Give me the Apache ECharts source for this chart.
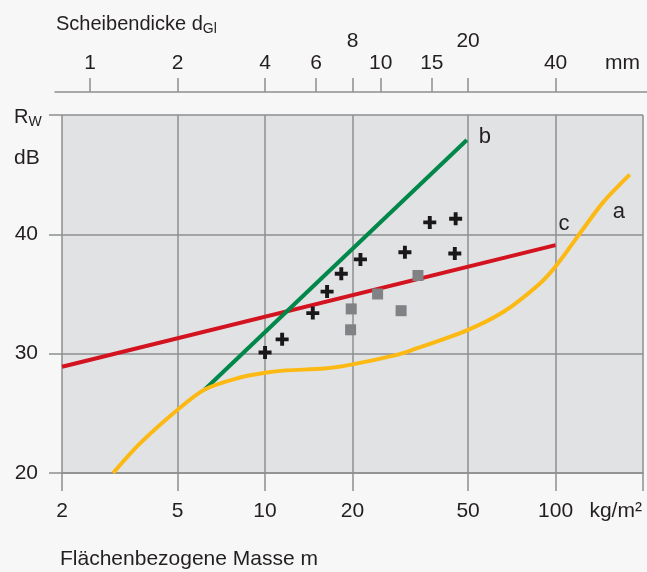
<!DOCTYPE html>
<html>
<head>
<meta charset="utf-8">
<script src="https://cdn.jsdelivr.net/npm/echarts@6/dist/echarts.min.js"></script>
<style>
html,body{margin:0;padding:0;background:#f7f7f7;}
#chart{width:647px;height:572px;}
</style>
</head>
<body>
<div id="chart"></div>
<script>
// ---- data ----
const massTicks = [2, 5, 10, 20, 50, 100, 200];
const massLabelValues = [2, 5, 10, 20, 50, 100, 161];
const massUnit = 'kg/m²';
const thicknessTicks = [1, 2, 4, 6, 8, 10, 15, 20, 40];
const thicknessLabelValues = [1, 2, 4, 6, 8, 10, 15, 20, 40, 68];
const thicknessRaised = [8, 20];
const thicknessUnit = 'mm';
const rwTicks = [20, 30, 40];

const curveA = [[3,20],[3.72,22.5],[5,25.3],[6.2,27],[8.08,27.96],[10,28.4],[11.8,28.6],[16,28.75],[20,29.1],[28.4,29.9],[32,30.3],[50,32],[66.6,33.55],[87.6,35.8],[100,37.3],[124,40.4],[146,42.7],[180,45]];
const lineB = [[6.2,27],[49.5,47.9]];
const lineC = [[2,28.9],[100,39.1]];
const plusPoints = [[10,30.1],[11.45,31.2],[14.6,33.4],[16.35,35.2],[18.3,36.7],[21.3,37.9],[30.3,38.5],[36.9,41.0],[45.3,41.3],[45,38.4]];
const squarePoints = [[19.7,32.0],[19.8,33.75],[24.4,35.0],[29.4,33.6],[33.6,36.55]];

const FONT = "'Liberation Sans Narrow','Liberation Sans',sans-serif";
const TXT = '#231f20';
const GRID = '#8d8e90';

const chart = echarts.init(document.getElementById('chart'), null, {renderer:'canvas'});
const richSub = {
  a:{fontFamily:FONT,fontSize:20,fontWeight:'normal',color:TXT,lineHeight:22,verticalAlign:'top'},
  s:{fontFamily:FONT,fontSize:14,fontWeight:'normal',color:TXT,lineHeight:14,padding:[12,0,0,0],verticalAlign:'bottom'}
};
chart.setOption({
  backgroundColor: '#f7f7f7',
  animation: false,
  textStyle: {fontFamily: FONT},
  title: [
    {left: 51, top: 9, text: '{a|Scheibendicke d}{s|Gl}', textStyle: {fontWeight:'normal', rich: richSub}},
    {left: 9, top: 102, text: '{a|R}{s|W}', textStyle: {fontWeight:'normal', rich: richSub}},
    {left: 9, top: 143, text: 'dB', textStyle:{fontFamily:FONT,fontSize:21,fontWeight:'normal',color:TXT}},
    {left: 55, top: 544, text: 'Flächenbezogene Masse m', textStyle:{fontFamily:FONT,fontSize:21,fontWeight:'normal',color:TXT}}
  ],
  grid: [
    {left: 62, top: 115, width: 581, height: 358, show: true, backgroundColor: '#e1e2e4', borderWidth: 0},
    {left: 55, top: 91, width: 592, height: 1, show: false}
  ],
  xAxis: [
    {type: 'log', gridIndex: 0, min: 2, max: 200, position: 'bottom',
     axisLine: {show: true, lineStyle: {color: GRID, width: 1.5}},
     axisTick: {show: true, length: 18, customValues: massTicks, lineStyle: {color: GRID, width: 1.5}},
     splitLine: {show: true, lineStyle: {color: GRID, width: 1.5}},
     axisLabel: {customValues: massLabelValues, margin: 28, fontSize: 21, color: TXT, fontFamily: FONT,
       formatter: v => (v > 150 ? massUnit : String(Math.round(v)))}},
    {type: 'log', gridIndex: 1, min: 0.7569, max: 82.56, position: 'top',
     axisLine: {show: true, lineStyle: {color: GRID, width: 1.5}},
     axisTick: {show: true, length: 14, customValues: thicknessTicks, lineStyle: {color: GRID, width: 1.5}},
     splitLine: {show: false},
     axisLabel: {customValues: thicknessLabelValues, margin: 17, fontSize: 21, color: TXT, fontFamily: FONT,
       formatter: v => {
         const r = Math.round(v);
         if (r === 68) return '{n|' + thicknessUnit + '}';
         return thicknessRaised.indexOf(r) >= 0 ? '{u|' + r + '}' : '{n|' + r + '}';
       },
       rich: {n:{fontSize:21,color:TXT,fontFamily:FONT}, u:{fontSize:21,color:TXT,fontFamily:FONT,padding:[0,0,22,0]}}}}
  ],
  yAxis: [
    {type: 'value', gridIndex: 0, min: 20, max: 50, interval: 10,
     axisLine: {show: false},
     axisTick: {show: true, length: 13, lineStyle: {color: GRID, width: 1.5}},
     splitLine: {show: true, lineStyle: {color: GRID, width: 1.5}},
     axisLabel: {margin: 24, fontSize: 21, color: TXT, fontFamily: FONT,
       formatter: v => (rwTicks.indexOf(v) >= 0 ? String(v) : '')}},
    {type: 'value', gridIndex: 1, show: false}
  ],
  series: [
    {type: 'line', name: 'c', data: lineC, symbol: 'none', lineStyle: {color: '#d3131f', width: 4}, z: 3,
     endLabel: {show: true, formatter: 'c', fontSize: 22, color: TXT, fontFamily: FONT, distance: 3, offset: [0, -21]}},
    {type: 'line', name: 'b', data: lineB, symbol: 'none', lineStyle: {color: '#00874a', width: 4}, z: 3,
     endLabel: {show: true, formatter: 'b', fontSize: 22, color: TXT, fontFamily: FONT, distance: 12, offset: [0, -3]}},
    {type: 'line', name: 'a', data: curveA, symbol: 'none', smooth: 0.3, lineStyle: {color: '#fdb913', width: 4}, z: 4,
     endLabel: {show: true, formatter: 'a', fontSize: 22, color: TXT, fontFamily: FONT, distance: 5, offset: [-22, 37]}},
    {type: 'scatter', name: 'plus', data: plusPoints, symbol: 'path://M4.2,0H7.8V4.2H12V7.8H7.8V12H4.2V7.8H0V4.2H4.2Z',
     symbolSize: 13, itemStyle: {color: '#1a1718', opacity: 1}, z: 5},
    {type: 'scatter', name: 'square', data: squarePoints, symbol: 'rect', symbolSize: 11,
     itemStyle: {color: '#808285', opacity: 1}, z: 5}
  ]
});
</script>
</body>
</html>
